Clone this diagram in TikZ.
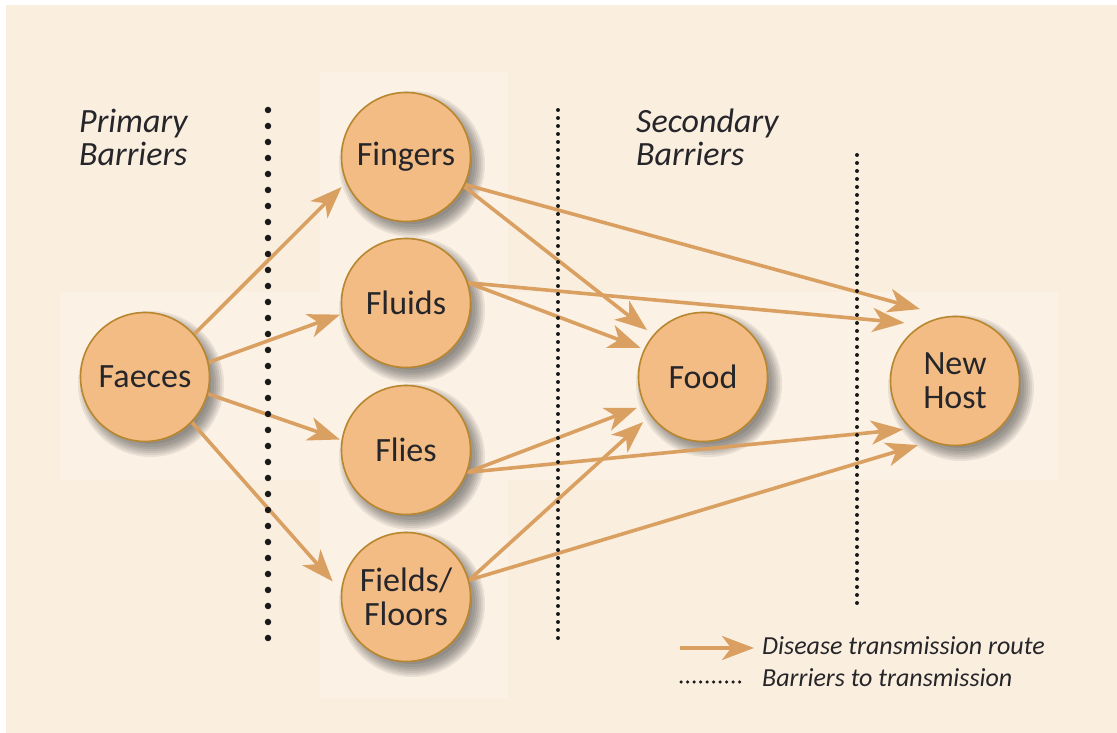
\documentclass[tikz,border=0pt]{standalone}
\usepackage{fontspec}
\setmainfont{Carlito}
\usetikzlibrary{arrows.meta,calc}
\definecolor{bgcream}{HTML}{FAEEDF}
\definecolor{panelcream}{HTML}{FBF1E5}
\definecolor{nodefill}{HTML}{F2BC84}
\definecolor{nodeedge}{HTML}{B8862E}
\definecolor{arrowcol}{HTML}{D9A062}
\definecolor{txt}{HTML}{26262A}
\pgfdeclarelayer{bgl}
\pgfdeclarelayer{shadowl}
\pgfdeclarelayer{back}
\pgfdeclarelayer{mid}
\pgfsetlayers{bgl,shadowl,back,mid,main}
\tikzset{
  bubble/.style={circle, draw=nodeedge, line width=1.6pt, fill=nodefill,
    minimum size=129pt, inner sep=0pt, align=center, text=txt,
    font=\fontsize{34}{34}\selectfont},
  route/.style={draw=arrowcol, line width=3.6pt,
    -{Stealth[length=32pt, width=24pt, inset=9pt]}},
  bigdots/.style={draw=black!90, line width=6.5pt, line cap=round, dash pattern=on 0pt off 16pt},
  smalldots/.style={draw=black!90, line width=4pt, line cap=round, dash pattern=on 0pt off 8pt},
  legdots/.style={draw=black!90, line width=3.5pt, line cap=round, dash pattern=on 0pt off 6.5pt},
  barrierlabel/.style={font=\fontsize{34}{33}\selectfont\itshape, text=txt, align=left, inner sep=0pt},
  legendtext/.style={font=\fontsize{26}{26}\selectfont\itshape, text=txt, inner sep=0pt},
  shadowdisc/.style={fill=black, opacity=0.07},
}
\begin{document}
\begin{tikzpicture}[x=1pt,y=1pt]
\useasboundingbox (0,0) rectangle (1117,733);
\begin{pgfonlayer}{bgl}
  \fill[white] (0,0) rectangle (1117,733);
  \fill[bgcream] (6,0) rectangle (1117,728);
  \fill[panelcream] (60,253) rectangle (1058,441);
  \fill[panelcream] (320,35) rectangle (508,661);
\end{pgfonlayer}

% nodes
\node[bubble] (faeces) at (145,356) {Faeces};
\node[bubble] (fingers) at (406,576) {Fingers};
\node[bubble] (fluids) at (406,430) {Fluids};
\node[bubble] (flies) at (406,283) {Flies};
\node[bubble] (fields) at (406,136) {Fields/\\Floors};
\node[bubble] (food) at (703,356) {Food};
\node[bubble] (host) at (955,352) {New\\Host};

% soft shadows
\begin{pgfonlayer}{shadowl}
  \foreach \n in {faeces,fingers,fluids,flies,fields,food,host}{
    \foreach \r in {73,71,69,67,65,63,60}{
      \fill[shadowdisc] ($(\n)+(6,-7)$) circle (\r);
    }
  }
\end{pgfonlayer}

% labels
\node[barrierlabel, anchor=west] (prim) at (79,596) {Primary\\Barriers};
\node[barrierlabel, anchor=west] (sec) at (636,596) {Secondary\\Barriers};

% routes
\begin{pgfonlayer}{back}
  \draw[route] (faeces.41) -- ($(fingers)+(205:71)$);
  \draw[route] (faeces.13) -- ($(fluids)+(190:67)$);
  \draw[route] (faeces.-15) -- ($(flies)+(171:67)$);
  \draw[route] (faeces.-44) -- ($(fields)+(168:75)$);
  \draw[route] (fingers.-27) -- ($(food)+(140:73)$);
  \draw[route] (fingers.-25) -- ($(host)+(116:80)$);
  \draw[route] (fluids.18) -- ($(food)+(155:69)$);
  \draw[route] (fluids.18) -- ($(host)+(131:77)$);
  \draw[route] (flies.-20) -- ($(food)+(205:73)$);
  \draw[route] (flies.-20) -- ($(host)+(223:71)$);
  \draw[route] (fields.15) -- ($(food)+(217:75)$);
  \draw[route] (fields.15) -- ($(host)+(240:74)$);
\end{pgfonlayer}

% barriers
\begin{pgfonlayer}{mid}
  \draw[bigdots] (268,623) -- (268,88);
  \draw[smalldots] (558,623) -- (558,90);
  \draw[smalldots] (857,578) -- (857,130);
\end{pgfonlayer}

% legend
\coordinate (la1) at (680,85);
\coordinate (la2) at (754,85);
\coordinate (lb1) at (681,51);
\coordinate (lb2) at (745,51);
\draw[route] (la1) -- (la2);
\draw[legdots] (lb1) -- (lb2);
\node[legendtext, anchor=base west] (leg1) at (762,78) {Disease transmission route};
\node[legendtext, anchor=base west] (leg2) at (762,46) {Barriers to transmission};
\end{tikzpicture}
\end{document}
